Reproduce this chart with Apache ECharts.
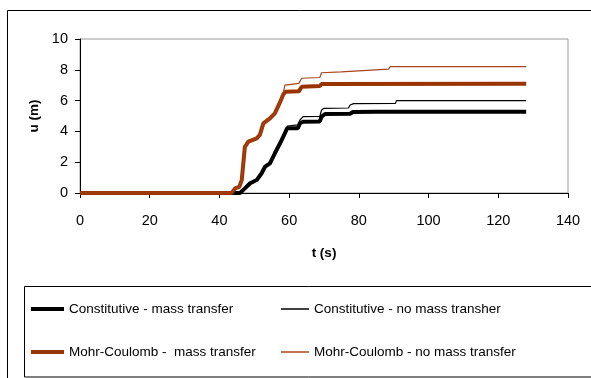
<!DOCTYPE html>
<html>
<head>
<meta charset="utf-8">
<script src="https://cdn.jsdelivr.net/npm/echarts@6/dist/echarts.min.js"></script>
<style>
html,body{margin:0;padding:0;background:#fff;}
#chart{width:591px;height:378px;}
</style>
</head>
<body>
<div id="chart"></div>
<script>
// ---- data ----
const seriesNames = ["Constitutive - mass transfer", "Constitutive - no mass transher", "Mohr-Coulomb -  mass transfer", "Mohr-Coulomb - no mass transfer"];

const tConstMass = [0, 45.9, 47.3, 48.8, 50.7, 52.1, 53.1, 54.5, 55.9, 57.4, 58.8, 59.4, 62.5, 63.1, 64.0, 68.8, 69.3, 70.3, 77.5, 78.3, 85, 128];
const uConstMass = [0, 0, 0.3, 0.63, 0.84, 1.28, 1.71, 1.93, 2.58, 3.23, 3.88, 4.2, 4.2, 4.53, 4.63, 4.65, 4.96, 5.13, 5.15, 5.26, 5.27, 5.28];

const tConstNoMass = [0, 45.9, 47.3, 48.8, 50.7, 52.1, 53.1, 54.5, 55.9, 57.4, 58.8, 59.5, 62.5, 63.1, 64.0, 68.8, 69.3, 70.0, 77.0, 77.5, 78.5, 90.5, 90.8, 128];
const uConstNoMass = [0, 0, 0.3, 0.63, 0.84, 1.28, 1.71, 1.93, 2.58, 3.23, 3.88, 4.35, 4.42, 4.74, 4.96, 4.98, 5.39, 5.5, 5.52, 5.71, 5.8, 5.82, 6.0, 6.0];

const tMCMass = [0, 43.5, 44.5, 45.7, 46.4, 47.3, 48.3, 50.7, 51.6, 52.6, 54.5, 55.9, 57.4, 58.3, 59.0, 62.8, 63.6, 68.8, 69.3, 128];
const uMCMass = [0, 0, 0.3, 0.4, 0.84, 3.0, 3.33, 3.55, 3.77, 4.52, 4.85, 5.17, 5.9, 6.4, 6.58, 6.6, 6.9, 6.95, 7.08, 7.1];

const tMCNoMass = [0, 43.5, 44.5, 45.7, 46.4, 47.3, 48.3, 50.7, 51.6, 52.6, 54.5, 55.9, 57.4, 58.3, 58.8, 62.8, 63.6, 68.8, 69.3, 75.0, 75.5, 88.5, 89.0, 128];
const uMCNoMass = [0, 0, 0.3, 0.4, 0.84, 3.0, 3.33, 3.55, 3.77, 4.52, 4.85, 5.17, 5.9, 6.5, 7.0, 7.12, 7.45, 7.5, 7.81, 7.87, 7.99, 8.05, 8.2, 8.2];

const xTicks = {min: 0, max: 140, interval: 20};
const yTicks = {min: 0, max: 10, interval: 2};

// ---- build ----
function pairs(t, u) { return t.map((v, i) => [v, u[i]]); }

const FONT = "'Liberation Sans', Arial, sans-serif";
const chart = echarts.init(document.getElementById('chart'), null, {renderer: 'canvas'});

const styles = [
  {color: '#000000', width: 4},
  {color: '#000000', width: 1.2},
  {color: '#993300', width: 4},
  {color: '#a8441a', width: 1.2}
];
const dataSets = [pairs(tConstMass, uConstMass), pairs(tConstNoMass, uConstNoMass), pairs(tMCMass, uMCMass), pairs(tMCNoMass, uMCNoMass)];

const legendPos = [
  {left: 31, top: 302, w: 33, h: 4},
  {left: 281, top: 302, w: 28, h: 1.5},
  {left: 31, top: 345, w: 33, h: 4},
  {left: 281, top: 345, w: 28, h: 1.5}
];

const option = {
  animation: false,
  backgroundColor: '#fff',
  textStyle: {fontFamily: FONT},
  grid: {left: 80, right: 23, top: 39, bottom: 185, show: true, borderColor: '#999', borderWidth: 1, backgroundColor: 'transparent'},
  xAxis: {
    type: 'value', min: xTicks.min, max: xTicks.max, interval: xTicks.interval,
    name: 't (s)', nameLocation: 'middle', nameGap: 53,
    nameTextStyle: {fontFamily: FONT, fontSize: 13.5, fontWeight: 'bold', color: '#000'},
    axisLine: {show: true, lineStyle: {color: '#000', width: 1}},
    axisTick: {show: true, inside: false, length: 5, lineStyle: {color: '#000'}},
    axisLabel: {margin: 20, fontFamily: FONT, fontSize: 14.5, color: '#000'},
    splitLine: {show: false}
  },
  yAxis: {
    type: 'value', min: yTicks.min, max: yTicks.max, interval: yTicks.interval,
    name: 'u (m)', nameLocation: 'middle', nameGap: 38, nameRotate: 90,
    nameTextStyle: {fontFamily: FONT, fontSize: 13.5, fontWeight: 'bold', color: '#000'},
    axisLine: {show: true, lineStyle: {color: '#000', width: 1}},
    axisTick: {show: true, inside: false, length: 5, lineStyle: {color: '#000'}},
    axisLabel: {margin: 12, fontFamily: FONT, fontSize: 14.5, color: '#000'},
    splitLine: {show: false}
  },
  legend: seriesNames.map((n, i) => ({
    data: [{name: n, icon: 'rect', itemStyle: {color: styles[i].color}}],
    left: legendPos[i].left, top: legendPos[i].top,
    itemWidth: legendPos[i].w, itemHeight: legendPos[i].h, padding: 0,
    textStyle: {fontFamily: FONT, fontSize: 13.5, color: '#000'},
    selectedMode: false
  })),
  graphic: [
    {type: 'rect', shape: {x: 7.5, y: 10.5, width: 700, height: 500}, style: {fill: 'none', stroke: '#000', lineWidth: 1}, silent: true, z: 0},
    {type: 'rect', shape: {x: 24.5, y: 286.5, width: 700, height: 90.5}, style: {fill: 'none', stroke: '#000', lineWidth: 1}, silent: true, z: 0}
  ],
  series: seriesNames.map((n, i) => ({
    name: n, type: 'line', data: dataSets[i],
    showSymbol: false, symbol: 'none',
    lineStyle: {color: styles[i].color, width: styles[i].width},
    itemStyle: {color: styles[i].color},
    z: 2 + i
  }))
};
chart.setOption(option);
</script>
</body>
</html>
